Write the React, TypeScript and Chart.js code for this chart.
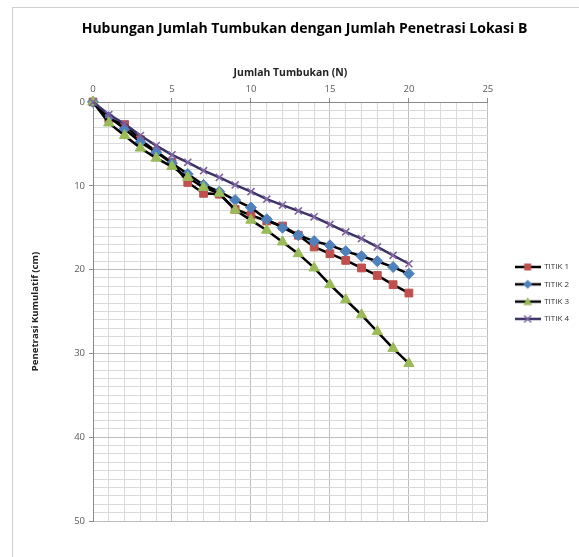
import React, { useEffect, useRef } from 'react';
import { Chart, registerables } from 'chart.js';

Chart.register(...registerables);

const chartTitle = 'Hubungan Jumlah Tumbukan dengan Jumlah Penetrasi Lokasi B';
const xAxisTitle = 'Jumlah Tumbukan (N)';
const yAxisTitle = 'Penetrasi Kumulatif (cm)';

const blows = [0, 1, 2, 3, 4, 5, 6, 7, 8, 9, 10, 11, 12, 13, 14, 15, 16, 17, 18, 19, 20];
const titik1 = [0, 2.0, 2.7, 4.5, 5.9, 7.2, 9.6, 10.9, 11.0, 12.8, 13.5, 14.2, 14.8, 15.9, 17.3, 18.1, 18.9, 19.8, 20.7, 21.8, 22.8];
const titik2 = [0, 1.8, 3.2, 4.8, 6.0, 7.3, 8.6, 9.9, 10.7, 11.7, 12.6, 14.0, 15.0, 15.9, 16.6, 17.1, 17.8, 18.4, 19.0, 19.7, 20.5];
const titik3 = [0, 2.5, 4.0, 5.5, 6.7, 7.7, 9.0, 10.2, 10.9, 12.9, 14.1, 15.3, 16.7, 18.1, 19.8, 21.8, 23.6, 25.4, 27.4, 29.4, 31.2];
const titik4 = [0, 1.5, 2.6, 4.0, 5.2, 6.3, 7.2, 8.2, 9.0, 9.9, 10.7, 11.6, 12.3, 13.0, 13.7, 14.6, 15.5, 16.3, 17.3, 18.3, 19.3];
const seriesNames = ['TITIK 1', 'TITIK 2', 'TITIK 3', 'TITIK 4'];
const xTickLabels = [0, 5, 10, 15, 20, 25];
const yTickLabels = [0, 10, 20, 30, 40, 50];

const seriesValues = [titik1, titik2, titik3, titik4];
const markerColors = ['#C0504D', '#4F81BD', '#9BBB59', '#8064A2'];
const lineColors = ['#000000', '#000000', '#000000', '#3B3366'];
const markerStyles = ['rect', 'rectRot', 'triangle', 'crossRot'];
const markerRadius = [5.5, 5.5, 6, 5];
const FONT = "'Open Sans', 'Liberation Sans', sans-serif";

function drawMarker(g: CanvasRenderingContext2D, style: string, x: number, y: number, color: string) {
  g.fillStyle = color;
  g.strokeStyle = color;
  g.lineWidth = 1.5;
  g.beginPath();
  if (style === 'rect') {
    g.rect(x - 3.5, y - 3.5, 7, 7);
    g.fill();
  } else if (style === 'rectRot') {
    g.moveTo(x, y - 4.5);
    g.lineTo(x + 4.5, y);
    g.lineTo(x, y + 4.5);
    g.lineTo(x - 4.5, y);
    g.closePath();
    g.fill();
  } else if (style === 'triangle') {
    g.moveTo(x, y - 4.5);
    g.lineTo(x + 4.5, y + 3.5);
    g.lineTo(x - 4.5, y + 3.5);
    g.closePath();
    g.fill();
  } else {
    g.moveTo(x - 3.5, y - 3.5);
    g.lineTo(x + 3.5, y + 3.5);
    g.moveTo(x + 3.5, y - 3.5);
    g.lineTo(x - 3.5, y + 3.5);
    g.stroke();
  }
}

function makeLegendIcon(i: number) {
  const c = document.createElement('canvas');
  c.width = 26;
  c.height = 12;
  const g = c.getContext('2d') as CanvasRenderingContext2D;
  g.strokeStyle = lineColors[i];
  g.lineWidth = 2.5;
  g.beginPath();
  g.moveTo(0, 6);
  g.lineTo(26, 6);
  g.stroke();
  drawMarker(g, markerStyles[i], 13, 6, markerColors[i]);
  return c;
}

export default function App() {
  const ref = useRef<HTMLCanvasElement | null>(null);

  useEffect(() => {
    if (!ref.current) return;
    const icons = seriesNames.map((_, i) => makeLegendIcon(i));
    const datasets = seriesNames.map((name, i) => ({
      label: name,
      data: blows.map((b, k) => ({ x: b, y: seriesValues[i][k] })),
      borderColor: lineColors[i],
      borderWidth: 2.5,
      backgroundColor: markerColors[i],
      pointStyle: markerStyles[i],
      pointRadius: markerRadius[i],
      pointBackgroundColor: markerColors[i],
      pointBorderColor: markerColors[i],
      pointBorderWidth: i === 3 ? 1.6 : 1,
      tension: 0,
      clip: false as any,
      order: 4 - i,
    }));

    const chart = new Chart(ref.current, {
      type: 'line',
      data: { datasets },
      options: {
        responsive: false,
        animation: false,
        layout: { padding: { left: 30, right: 0, top: 0, bottom: 36 } },
        plugins: {
          title: {
            display: true,
            text: chartTitle,
            color: '#000',
            font: { family: FONT, size: 14, weight: 'bold', lineHeight: 1.2 },
            padding: { top: 20.6, bottom: 7 },
          },
          legend: {
            position: 'right',
            fullSize: false,
            align: 'start',
            title: { display: true, text: ' ', font: { size: 1 }, padding: { top: 0, bottom: 150.5 } },
            labels: {
              usePointStyle: true,
              pointStyleWidth: 25,
              padding: 9.3,
              color: '#333',
              font: { family: FONT, size: 8 },
              generateLabels: (ch: any) =>
                ch.data.datasets.map((ds: any, i: number) => ({
                  text: ds.label,
                  pointStyle: icons[i],
                  fillStyle: 'transparent',
                  strokeStyle: 'transparent',
                  lineWidth: 0,
                  hidden: !ch.isDatasetVisible(i),
                  datasetIndex: i,
                  fontColor: '#333',
                })),
            },
          },
          tooltip: { enabled: false },
        },
        scales: {
          x: {
            type: 'linear',
            position: 'top',
            min: 0,
            max: 25,
            afterFit: (s: any) => { s.height = 57.6; },
            title: {
              display: true,
              text: xAxisTitle,
              color: '#222',
              font: { family: FONT, size: 10.4, weight: 'bold' },
              padding: { top: 22.5, bottom: 0 },
            },
            ticks: {
              stepSize: 1,
              autoSkip: false,
              maxRotation: 0,
              color: '#595959',
              padding: 3,
              font: { family: FONT, size: 9.5 },
              callback: (v: any) => (xTickLabels.includes(Number(v)) ? String(v) : ''),
            },
            grid: {
              color: (c: any) => (c.tick && c.tick.value % 5 === 0 ? '#bdbdbd' : '#dadada'),
              tickColor: (c: any) => (c.tick && c.tick.value % 5 === 0 ? '#8a8a8a' : 'rgba(0,0,0,0)'),
              tickLength: 4,
            },
            border: { color: '#8a8a8a', width: 1 },
          },
          y: {
            type: 'linear',
            reverse: true,
            min: 0,
            max: 50,
            afterFit: (s: any) => { s.width = 63; },
            title: {
              display: true,
              text: yAxisTitle,
              color: '#222',
              font: { family: FONT, size: 9.6, weight: 'bold' },
              padding: { top: 0, bottom: 0 },
            },
            ticks: {
              stepSize: 1,
              autoSkip: false,
              color: '#595959',
              padding: 4,
              font: { family: FONT, size: 9.5 },
              callback: (v: any) => (yTickLabels.includes(Number(v)) ? String(v) : ''),
            },
            grid: {
              color: (c: any) => (c.tick && c.tick.value % 10 === 0 ? '#bdbdbd' : '#dadada'),
              tickColor: (c: any) => (c.tick && c.tick.value % 10 === 0 ? '#8a8a8a' : 'rgba(0,0,0,0)'),
              tickLength: 4,
            },
            border: { color: '#8a8a8a', width: 1 },
          },
          yPad: {
            type: 'linear',
            position: 'right',
            display: true,
            afterFit: (s: any) => { s.width = 18; },
            grid: { display: false },
            ticks: { display: false },
            border: { display: false },
          },
        },
      } as any,
    });
    return () => chart.destroy();
  }, []);

  return (
    <div style={{ position: 'fixed', left: 0, top: 0, width: 579, height: 557, background: '#fff' }}>
      <div
        style={{
          position: 'absolute',
          left: 12,
          top: 7,
          right: 0,
          bottom: 0,
          borderLeft: '1px solid #cfcfcf',
          borderTop: '1px solid #cfcfcf',
        }}
      />
      <canvas
        ref={ref}
        width={579}
        height={557}
        style={{ position: 'absolute', left: 0, top: 0, width: 579, height: 557 }}
      />
    </div>
  );
}
